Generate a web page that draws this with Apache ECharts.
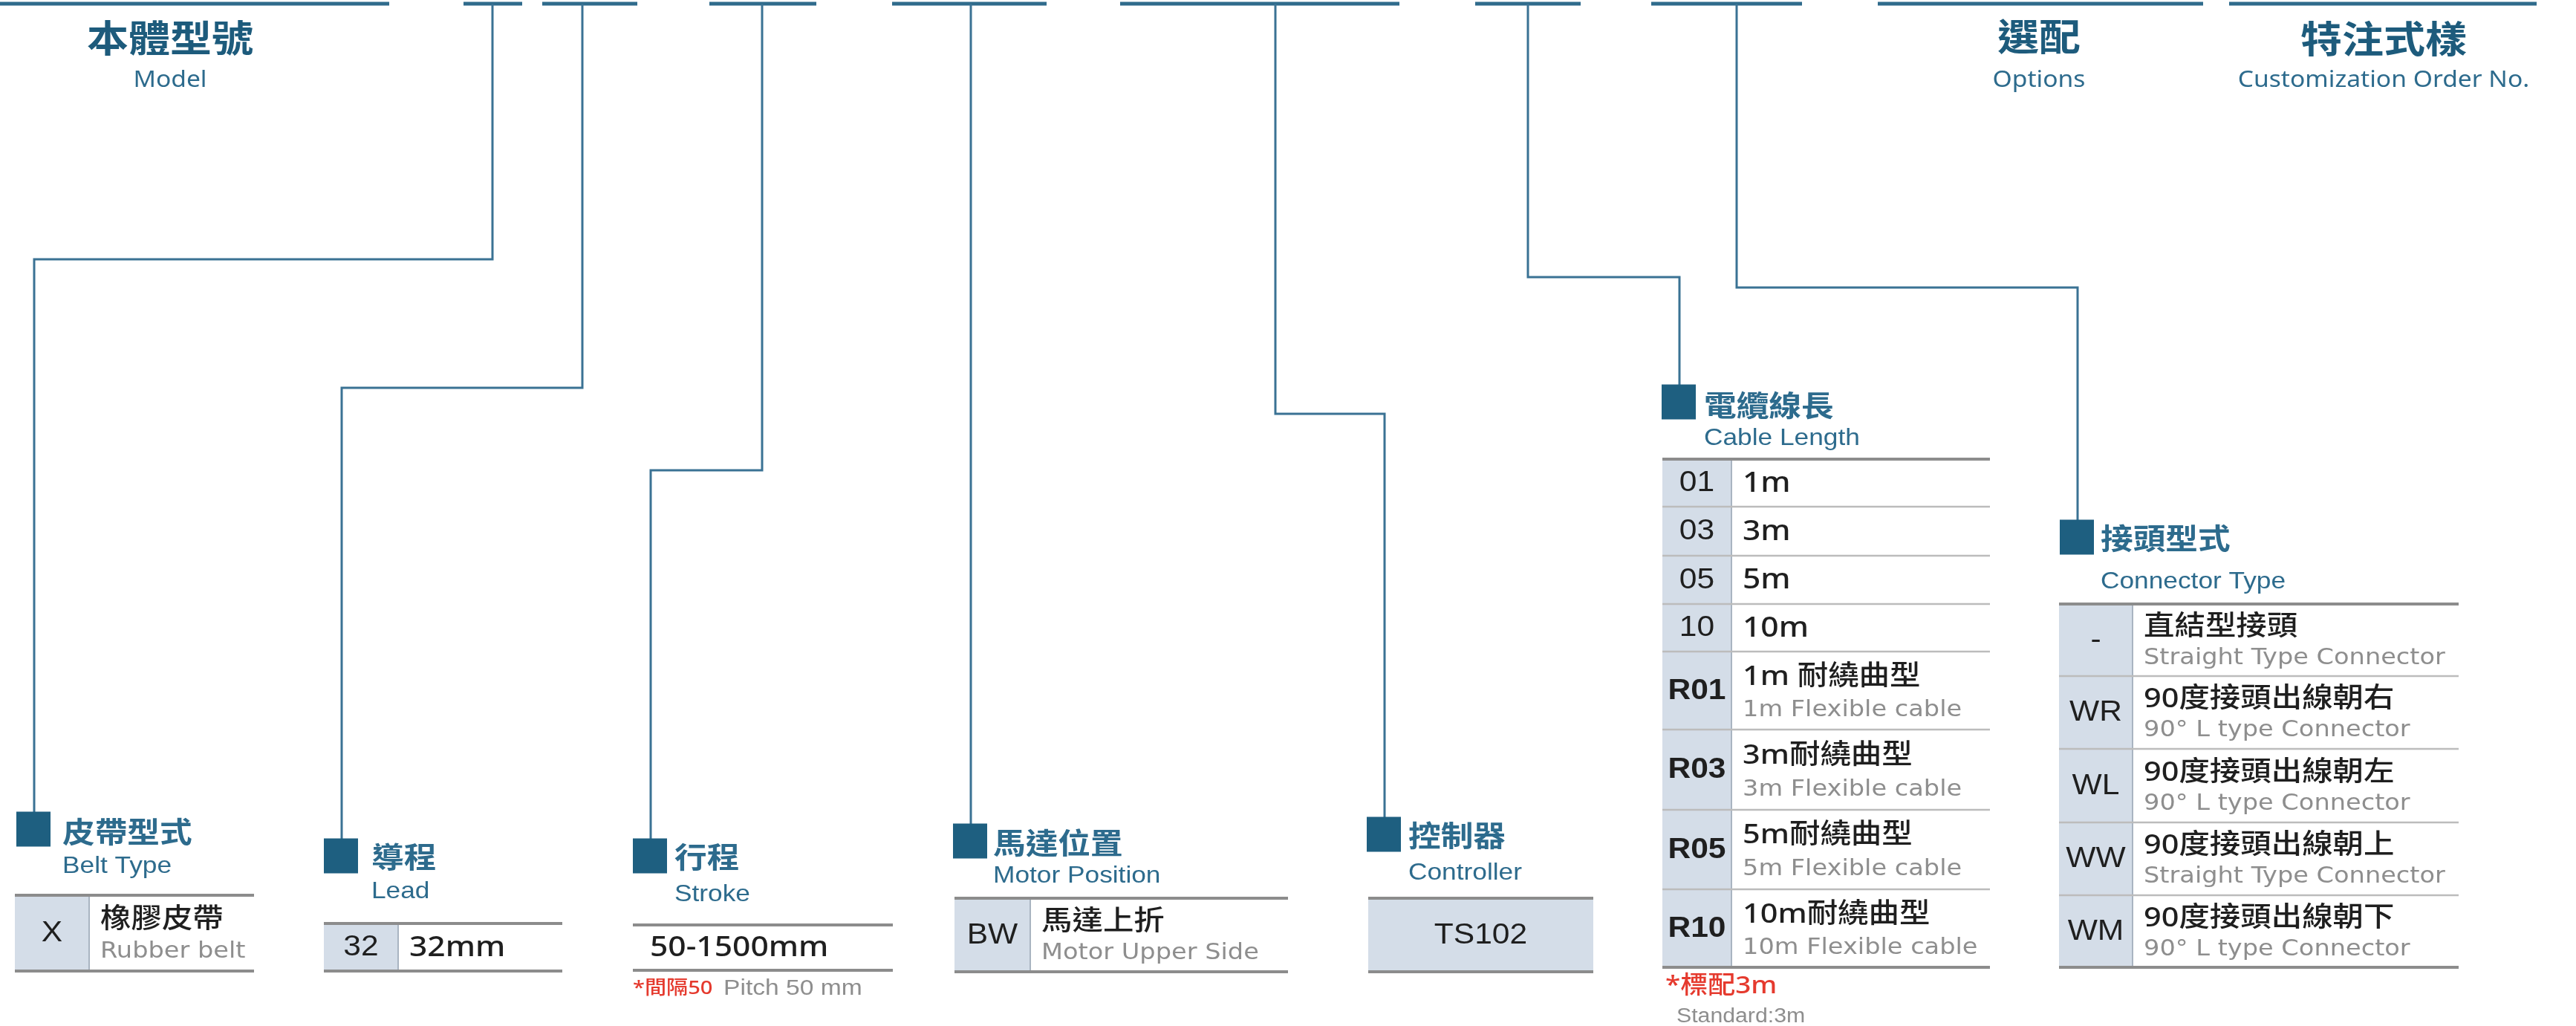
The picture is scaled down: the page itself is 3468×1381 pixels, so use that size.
<!DOCTYPE html>
<html><head><meta charset="utf-8">
<script src="https://cdn.jsdelivr.net/npm/echarts@6/dist/echarts.min.js"></script>
<style>html,body{margin:0;padding:0;background:#fff}#c{width:3468px;height:1381px}</style>
</head><body><div id="c"></div>
<script>
// ---------------- data ----------------
const headerZh = ['本體型號', '選配', '特注式樣'];
const headerEn = ['Model', 'Options', 'Customization Order No.'];
const sectionZh = ['皮帶型式', '導程', '行程', '馬達位置', '控制器', '電纜線長', '接頭型式'];
const sectionEn = ['Belt Type', 'Lead', 'Stroke', 'Motor Position', 'Controller', 'Cable Length', 'Connector Type'];
const beltCodes = ['X'];
const beltMain = ['橡膠皮帶'];
const beltSub = ['Rubber belt'];
const leadCodes = ['32'];
const leadMain = ['32mm'];
const strokeMain = ['50-1500mm'];
const motorCodes = ['BW'];
const motorMain = ['馬達上折'];
const motorSub = ['Motor Upper Side'];
const controllerCodes = ['TS102'];
const cableCodes = ['01', '03', '05', '10', 'R01', 'R03', 'R05', 'R10'];
const cableMain = ['1m', '3m', '5m', '10m', '1m 耐繞曲型', '3m耐繞曲型', '5m耐繞曲型', '10m耐繞曲型'];
const cableSub = ['', '', '', '', '1m Flexible cable', '3m Flexible cable', '5m Flexible cable', '10m Flexible cable'];
const connectorCodes = ['-', 'WR', 'WL', 'WW', 'WM'];
const connectorMain = ['直結型接頭', '90度接頭出線朝右', '90度接頭出線朝左', '90度接頭出線朝上', '90度接頭出線朝下'];
const connectorSub = ['Straight Type Connector', '90° L type Connector', '90° L type Connector', 'Straight Type Connector', '90° L type Connector'];
const noteRed = ['*間隔50', '*標配3m'];
const noteGray = ['Pitch 50 mm', 'Standard:3m'];

// ---------------- layout (sheet units) ----------------
const SX = 1.12;
const C = {
  title: '#1d5b7c', sub: '#2d6b8d', line: '#3a7294', bar: '#2f6b8c', marker: '#1e5f80',
  codeBg: '#d4dde8', edge: '#8c8c8c', inner: '#bcbcbc', divider: '#a9b4c1',
  text: '#1f1f1f', gray: '#8e8e8e', red: '#e53a2e'
};
const CJK = "'Noto Sans CJK TC','Noto Sans CJK SC',sans-serif";
const MIX = "'Noto Sans','Noto Sans CJK TC',sans-serif";
const ARIAL = "'Liberation Sans','Noto Sans CJK TC',sans-serif";
const DEJA = "'DejaVu Sans',sans-serif";

const topBars = [[0, 524], [624, 703], [730, 858], [955, 1099], [1201, 1409], [1508, 1884], [1986, 2128], [2223, 2426], [2528, 2966], [3001, 3415]];
const barY = 5;
const connectorPaths = [
  [[663, 5], [663, 349], [46, 349], [46, 1093]],
  [[784, 5], [784, 522], [460, 522], [460, 1129]],
  [[1026, 5], [1026, 633], [876, 633], [876, 1129]],
  [[1307, 5], [1307, 1109]],
  [[1717, 5], [1717, 557], [1864, 557], [1864, 1100]],
  [[2057, 5], [2057, 373], [2261, 373], [2261, 518]],
  [[2338, 5], [2338, 387], [2797, 387], [2797, 700]]
];
const markerSize = 46;
const headerPos = [[229, 51, 108], [2745, 49, 108], [3209, 52, 108]];
const sectionPos = [
  [84, 1119, 1166], [500, 1153, 1200], [908, 1153, 1204], [1337, 1134, 1179],
  [1896, 1124, 1175], [2294, 545, 590], [2828, 724, 783]
];
const tables = [
  { x: 20, w: 322, codeW: 100, rows: [1205, 1307], codes: beltCodes, main: beltMain, sub: beltSub },
  { x: 436, w: 321, codeW: 100, rows: [1243, 1307], codes: leadCodes, main: leadMain, sub: [''] },
  { x: 852, w: 350, codeW: 0, rows: [1245, 1306], codes: [''], main: strokeMain, sub: [''], textPad: 23 },
  { x: 1285, w: 449, codeW: 102, rows: [1209, 1308], codes: motorCodes, main: motorMain, sub: motorSub },
  { x: 1842, w: 303, codeW: 303, rows: [1209, 1308], codes: controllerCodes, main: [''], sub: [''] },
  { x: 2238, w: 441, codeW: 93, rows: [618, 682, 748, 813, 877, 982, 1090, 1197, 1302], codes: cableCodes, main: cableMain, sub: cableSub },
  { x: 2772, w: 538, codeW: 99, rows: [813, 910, 1008, 1107, 1205, 1302], codes: connectorCodes, main: connectorMain, sub: connectorSub }
];
const notePos = [[852, 1331, 974, 1331, 26, 30], [2242, 1328, 2257, 1369, 33, 27]];

// ---------------- helpers ----------------
function T(pt, text, size, family, fill, align, weight) {
  return {
    type: 'text', x: pt[0], y: pt[1], scaleX: SX, silent: true,
    style: { text: text, fontSize: size, fontFamily: family, fontWeight: weight || 'normal', fill: fill, align: align || 'left', verticalAlign: 'middle' }
  };
}
function hline(api, x1, x2, y, color, width) {
  const a = api.coord([x1, y]), b = api.coord([x2, y]);
  return { type: 'line', silent: true, shape: { x1: a[0], y1: a[1], x2: b[0], y2: b[1] }, style: { stroke: color, lineWidth: width } };
}
function vline(api, x, y1, y2, color, width) {
  const a = api.coord([x, y1]), b = api.coord([x, y2]);
  return { type: 'line', silent: true, shape: { x1: a[0], y1: a[1], x2: b[0], y2: b[1] }, style: { stroke: color, lineWidth: width } };
}

function tableSeries(t) {
  return {
    type: 'custom', coordinateSystem: 'cartesian2d', silent: true, z: 5,
    data: t.codes.map((c, i) => ({ name: c, value: [t.x, t.rows[i]] })),
    renderItem: function (params, api) {
      const i = params.dataIndex;
      const n = t.codes.length;
      const top = t.rows[i], bot = t.rows[i + 1], h = bot - top;
      const ch = [];
      if (t.codeW > 0) {
        const a = api.coord([t.x, top]), s = api.size([t.codeW, h]);
        ch.push({ type: 'rect', silent: true, shape: { x: a[0], y: a[1], width: s[0], height: s[1] }, style: { fill: C.codeBg } });
        if (t.codeW < t.w) ch.push(vline(api, t.x + t.codeW, top, bot, C.divider, 2));
      }
      if (i > 0) ch.push(hline(api, t.x, t.x + t.w, top, C.inner, 2.5));
      if (i === 0) ch.push(hline(api, t.x, t.x + t.w, top, C.edge, 4));
      if (i === n - 1) ch.push(hline(api, t.x, t.x + t.w, bot, C.edge, 4));
      if (t.codes[i]) {
        const bold = /^R\d/.test(t.codes[i]) ? 'bold' : 'normal';
        ch.push(T(api.coord([t.x + t.codeW / 2, top + h / 2 + 1]), t.codes[i], 38, ARIAL, C.text, 'center', bold));
      }
      const tx = t.x + t.codeW + (t.textPad || 15);
      const m = t.main[i], s2 = t.sub[i];
      if (m && s2) {
        ch.push(T(api.coord([tx, top + h * 0.325]), m, 37, MIX, C.text, 'left', 500));
        ch.push(T(api.coord([tx, top + h * 0.75]), s2, 30, DEJA, C.gray));
      } else if (m) {
        ch.push(T(api.coord([tx, top + h / 2 + 1]), m, 38, MIX, C.text, 'left', 500));
      }
      return { type: 'group', children: ch };
    }
  };
}

const series = [];
// header bars
series.push({
  type: 'lines', coordinateSystem: 'cartesian2d', polyline: true, silent: true, z: 2,
  lineStyle: { color: C.bar, width: 5, opacity: 1 },
  data: topBars.map(b => ({ coords: [[b[0], barY], [b[1], barY]] }))
});
// connector lines
series.push({
  type: 'lines', coordinateSystem: 'cartesian2d', polyline: true, silent: true, z: 2,
  lineStyle: { color: C.line, width: 3, opacity: 1 },
  data: connectorPaths.map(p => ({ coords: p }))
});
// markers
series.push({
  type: 'scatter', coordinateSystem: 'cartesian2d', silent: true, z: 4,
  symbol: 'rect', symbolSize: [markerSize, markerSize + 1],
  itemStyle: { color: C.marker, opacity: 1 },
  data: connectorPaths.map(p => { const e = p[p.length - 1]; return [e[0] - 1, e[1] + markerSize / 2]; })
});
// headers
series.push({
  type: 'custom', coordinateSystem: 'cartesian2d', silent: true, z: 6,
  data: headerZh.map((h, i) => ({ name: h, value: [headerPos[i][0], headerPos[i][1]] })),
  renderItem: function (params, api) {
    const i = params.dataIndex, p = headerPos[i];
    return { type: 'group', children: [
      T(api.coord([p[0], p[1]]), headerZh[i], 50, CJK, C.title, 'center', 'bold'),
      T(api.coord([p[0], p[2]]), headerEn[i], 30, "'Noto Sans',sans-serif", C.sub, 'center')
    ] };
  }
});
// section titles
series.push({
  type: 'custom', coordinateSystem: 'cartesian2d', silent: true, z: 6,
  data: sectionZh.map((h, i) => ({ name: h, value: [sectionPos[i][0], sectionPos[i][1]] })),
  renderItem: function (params, api) {
    const i = params.dataIndex, p = sectionPos[i];
    return { type: 'group', children: [
      T(api.coord([p[0], p[1]]), sectionZh[i], 39, CJK, C.sub, 'left', 'bold'),
      T(api.coord([p[0], p[2]]), sectionEn[i], 31.5, ARIAL, C.sub, 'left')
    ] };
  }
});
// tables
tables.forEach(t => series.push(tableSeries(t)));
// notes
series.push({
  type: 'custom', coordinateSystem: 'cartesian2d', silent: true, z: 6,
  data: noteRed.map((h, i) => ({ name: h, value: [notePos[i][0], notePos[i][1]] })),
  renderItem: function (params, api) {
    const i = params.dataIndex, p = notePos[i];
    return { type: 'group', children: [
      T(api.coord([p[0], p[1]]), noteRed[i], p[4], MIX, C.red, 'left', 500),
      T(api.coord([p[2], p[3]]), noteGray[i], p[5], ARIAL, C.gray, 'left')
    ] };
  }
});

const chart = echarts.init(document.getElementById('c'), null, { renderer: 'canvas' });
chart.setOption({
  animation: false,
  backgroundColor: '#ffffff',
  grid: { left: 0, right: 0, top: 0, bottom: 0 },
  xAxis: { type: 'value', min: 0, max: 3468, show: false },
  yAxis: { type: 'value', min: 0, max: 1381, inverse: true, show: false },
  series: series
});
</script>
</body></html>
